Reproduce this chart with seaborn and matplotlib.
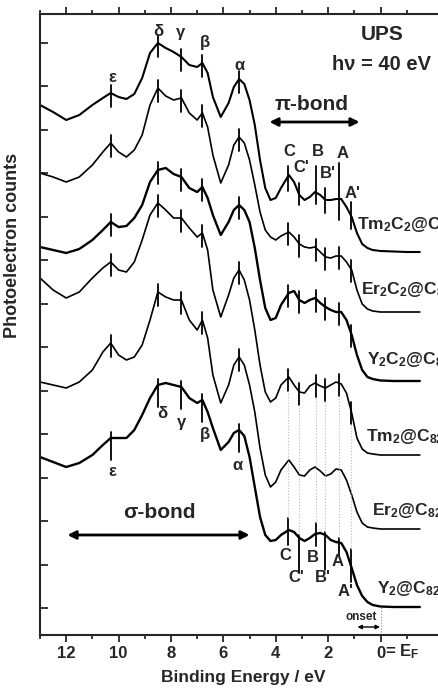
import numpy as np
import pandas as pd
import matplotlib
matplotlib.use('Agg')
import matplotlib.pyplot as plt
import seaborn as sns

# ---------------- data ----------------
energy = [13.0, 12.5, 12.0, 11.5, 11.0, 10.6, 10.3, 10.0, 9.7, 9.4, 9.1, 8.8, 8.5, 8.2, 7.9,
          7.6, 7.3, 7.0, 6.8, 6.6, 6.4, 6.1, 5.8, 5.6, 5.4, 5.2, 5.0, 4.8, 4.6, 4.4,
          4.2, 4.0, 3.8, 3.5, 3.3, 3.1, 2.9, 2.7, 2.5, 2.3, 2.1, 1.9, 1.7, 1.5, 1.3,
          1.1, 0.9, 0.7, 0.5, 0.3, 0.0, -0.5, -1.0, -1.5]

tm2c2 = [147, 140, 132, 137, 147, 154, 159, 155, 153, 158, 174, 199, 209, 204, 200,
         195, 187, 185, 189, 179, 155, 135, 149, 165, 173, 168, 152, 127, 92, 64,
         52, 54, 64, 77, 70, 57, 52, 55, 60, 57, 52, 52, 53, 53, 45,
         35, 19, 8, 4, 2, 1, 0.5, 0, 0]
er2c2 = [139, 135, 130, 135, 147, 160, 169, 160, 155, 162, 177, 207, 224, 216, 212,
         214, 199, 192, 199, 185, 157, 129, 147, 167, 175, 169, 152, 127, 100, 82,
         75, 72, 76, 80, 75, 68, 65, 64, 65, 60, 55, 54, 56, 56, 50,
         42, 22, 8, 3, 1, 0, 0, 0, 0]
y2c2 = [134, 131, 128, 132, 141, 151, 159, 154, 155, 163, 176, 199, 211, 213, 207,
        204, 193, 189, 194, 183, 166, 146, 159, 171, 176, 171, 159, 133, 101, 73,
        61, 63, 76, 88, 90, 81, 78, 81, 83, 78, 74, 71, 69, 69, 61,
        46, 26, 11, 4, 2, 0.5, 0, 0, 0]
tm2 = [177, 165, 157, 163, 177, 187, 193, 185, 183, 193, 215, 240, 252, 245, 237,
       237, 227, 218, 222, 205, 165, 138, 160, 177, 185, 175, 155, 125, 90, 63,
       53, 57, 70, 78, 70, 63, 62, 69, 72, 69, 67, 70, 73, 71, 62,
       42, 17, 6, 2, 1, 0, 0, 0, 0]
er2 = [147, 144, 141, 147, 159, 177, 186, 174, 169, 172, 184, 209, 237, 232, 229,
       229, 209, 199, 209, 191, 154, 126, 144, 164, 172, 164, 144, 117, 81, 54,
       42, 47, 59, 69, 62, 54, 53, 59, 62, 58, 53, 55, 60, 59, 49,
       34, 17, 6, 2, 1, 0, 0, 0, 0]
y2 = [150, 145, 140, 144, 152, 162, 169, 169, 169, 177, 192, 209, 222, 224, 222,
      220, 209, 204, 207, 195, 179, 157, 165, 174, 177, 171, 150, 120, 90, 72,
      66, 67, 72, 77, 75, 69, 66, 69, 73, 74, 72, 67, 65, 64, 55,
      39, 22, 11, 5, 2, 0.5, 0, 0, 0]

samples = [r'$Tm_2C_2@C_{82}$', r'$Er_2C_2@C_{82}$', r'$Y_2C_2@C_{82}$',
           r'$Tm_2@C_{82}$', r'$Er_2@C_{82}$', r'$Y_2@C_{82}$']
spectra = [tm2c2, er2c2, y2c2, tm2, er2, y2]
offsets = [383, 323, 254, 180, 106, 28]

greek_E = [10.3, 8.5, 7.6, 6.8, 5.4]
greek_lab = ['ε', 'δ', 'γ', 'β', 'α']
pi_E = [3.52, 3.1, 2.46, 2.12, 1.58, 1.12]
pi_lab = ['C', "C'", 'B', "B'", 'A', "A'"]

xticks = [12, 10, 8, 6, 4, 2, 0]
xticklabels = ['12', '10', '8', '6', '4', '2', '0']

# ---------------- style ----------------
sns.set_style('ticks')
plt.rcParams['font.family'] = ['Liberation Sans', 'DejaVu Sans']
plt.rcParams['font.weight'] = 'bold'
plt.rcParams['mathtext.fontset'] = 'custom'
plt.rcParams['mathtext.rm'] = 'Liberation Sans:bold'
plt.rcParams['mathtext.bf'] = 'Liberation Sans:bold'
plt.rcParams['mathtext.it'] = 'Liberation Sans:bold'
plt.rcParams['mathtext.default'] = 'bf'

fig = plt.figure(figsize=(4.39, 6.88), dpi=100)
ax = fig.add_axes([40 / 439, 53 / 688, 406 / 439, 621 / 688])

rows = []
for name, spec, off in zip(samples, spectra, offsets):
    for e, v in zip(energy, spec):
        rows.append({'sample': name, 'energy': e, 'counts': off + v})
df = pd.DataFrame(rows)

noisy = {r'$Tm_2C_2@C_{82}$': 1.5, r'$Y_2C_2@C_{82}$': 1.7, r'$Y_2@C_{82}$': 1.7}
for name in samples:
    sub = df[df['sample'] == name]
    sns.lineplot(data=sub, x='energy', y='counts', ax=ax, color='black',
                 lw=noisy.get(name, 1.2), sort=False, estimator=None, legend=False)

e_inc = np.array(energy)[::-1]


def val(i, e):
    return offsets[i] + np.interp(e, e_inc, np.array(spectra[i])[::-1])


# marker ticks
for i in range(6):
    up, dn = (6, 22) if i == 5 else (8, 14)
    for e in greek_E:
        y = val(i, e)
        ax.plot([e, e], [y - dn, y + up], color='black', lw=1.3)

pi_up_top = [10, 12, 27, 12, 36, 14]
pi_dn_top = [15, 10, 11, 13, 21, 13]
pi_up_bot = [12, 3, 11, 3, 5, 17]
pi_dn_bot = [15, 35, 12, 35, 13, 16]
for i in [0, 1, 2, 3, 5]:
    for k, e in enumerate(pi_E):
        y = val(i, e)
        if i == 0:
            up, dn = pi_up_top[k], pi_dn_top[k]
        elif i == 5:
            up, dn = pi_up_bot[k], pi_dn_bot[k]
        else:
            up, dn = 9, 13
        ax.plot([e, e], [y - dn, y + up], color='black', lw=1.3)

# grey dotted guides
for k, e in enumerate(pi_E):
    ax.plot([e, e], [val(5, e) + pi_up_bot[k], val(3, e) - 13], color='#b8b8b8',
            lw=0.8, ls=':')

# Greek labels
top_pos = [(10.23, 558), (8.47, 603), (7.63, 602), (6.72, 592), (5.38, 570)]
bot_pos = [(10.23, 163), (8.32, 222), (7.6, 213), (6.72, 200), (5.46, 170)]
for lab, (x, y) in zip(greek_lab, top_pos):
    ax.text(x, y, lab, fontsize=12, fontweight='bold', ha='center', va='center')
for lab, (x, y) in zip(greek_lab, bot_pos):
    ax.text(x, y, lab, fontsize=12, fontweight='bold', ha='center', va='center')

pi_top_pos = [(3.47, 483), (3.02, 467), (2.4, 483), (2.02, 462), (1.45, 482), (1.07, 442)]
pi_bot_pos = [(3.63, 80), (3.2, 57), (2.6, 78), (2.21, 57), (1.64, 73), (1.34, 43)]
for lab, (x, y) in zip(pi_lab, pi_top_pos):
    ax.text(x, y, lab, fontsize=12, fontweight='bold', ha='center', va='center')
for lab, (x, y) in zip(pi_lab, pi_bot_pos):
    ax.text(x, y, lab, fontsize=12, fontweight='bold', ha='center', va='center')

# sample labels
lab_pos = [(0.88, 406), (0.73, 341), (0.5, 271), (0.57, 194), (0.34, 120), (0.15, 42)]
for name, (x, y) in zip(samples, lab_pos):
    ax.text(x, y, name, fontsize=12.5, ha='left', va='baseline')

# headings
ax.text(-0.08, 600, 'UPS', fontsize=15, fontweight='bold', ha='center', va='center')
ax.text(-0.04, 570, 'hν = 40 eV', fontsize=14.5, fontweight='bold', ha='center', va='center')
ax.text(2.63, 530, 'π-bond', fontsize=15, fontweight='bold', ha='center', va='center')
ax.annotate('', xy=(4.24, 513), xytext=(0.8, 513),
            arrowprops=dict(arrowstyle='<|-|>', color='black', lw=2, mutation_scale=12,
                            shrinkA=0, shrinkB=0))
ax.text(8.44, 122, 'σ-bond', fontsize=15, fontweight='bold', ha='center', va='center')
ax.annotate('', xy=(11.95, 100), xytext=(5.0, 100),
            arrowprops=dict(arrowstyle='<|-|>', color='black', lw=2, mutation_scale=12,
                            shrinkA=0, shrinkB=0))

# onset
ax.plot([0, 0], [3, 30], color='#888888', lw=0.8, ls=':')
ax.text(0.73, 18, 'onset', fontsize=8.5, fontweight='bold', ha='center', va='center')
ax.annotate('', xy=(0.88, 8), xytext=(0.02, 8),
            arrowprops=dict(arrowstyle='<|-|>', color='black', lw=1, mutation_scale=6,
                            shrinkA=0, shrinkB=0))

# axes
ax.set_xlim(13.0, -2.5)
ax.set_ylim(0, 621)
ax.set_xticks(xticks)
ax.set_xticklabels(xticklabels, fontsize=12, fontweight='bold')
ax.set_xticks([13, 11, 9, 7, 5, 3, 1, -1], minor=True)
ax.set_yticks(np.arange(27, 600, 43.5))
ax.set_yticklabels([])
ax.tick_params(axis='x', which='major', top=True, direction='out', length=5, width=1.3, pad=3)
ax.tick_params(axis='x', which='minor', top=True, direction='out', length=3, width=1.3)
ax.tick_params(axis='y', which='major', direction='in', length=6, width=1.3)
for s in ax.spines.values():
    s.set_linewidth(1.5)
ax.text(-0.17, -0.027, r'= $E_F$', transform=ax.get_xaxis_transform(), fontsize=12,
        ha='left', va='center')

ax.set_xlabel('Binding Energy / eV', fontsize=12.5, fontweight='bold')
ax.set_ylabel('Photoelectron counts', fontsize=13, fontweight='bold')
ax.xaxis.set_label_coords(0.5, -0.057)
ax.yaxis.set_label_coords(-0.046, 0.628)

fig.savefig('out.png', dpi=100)
